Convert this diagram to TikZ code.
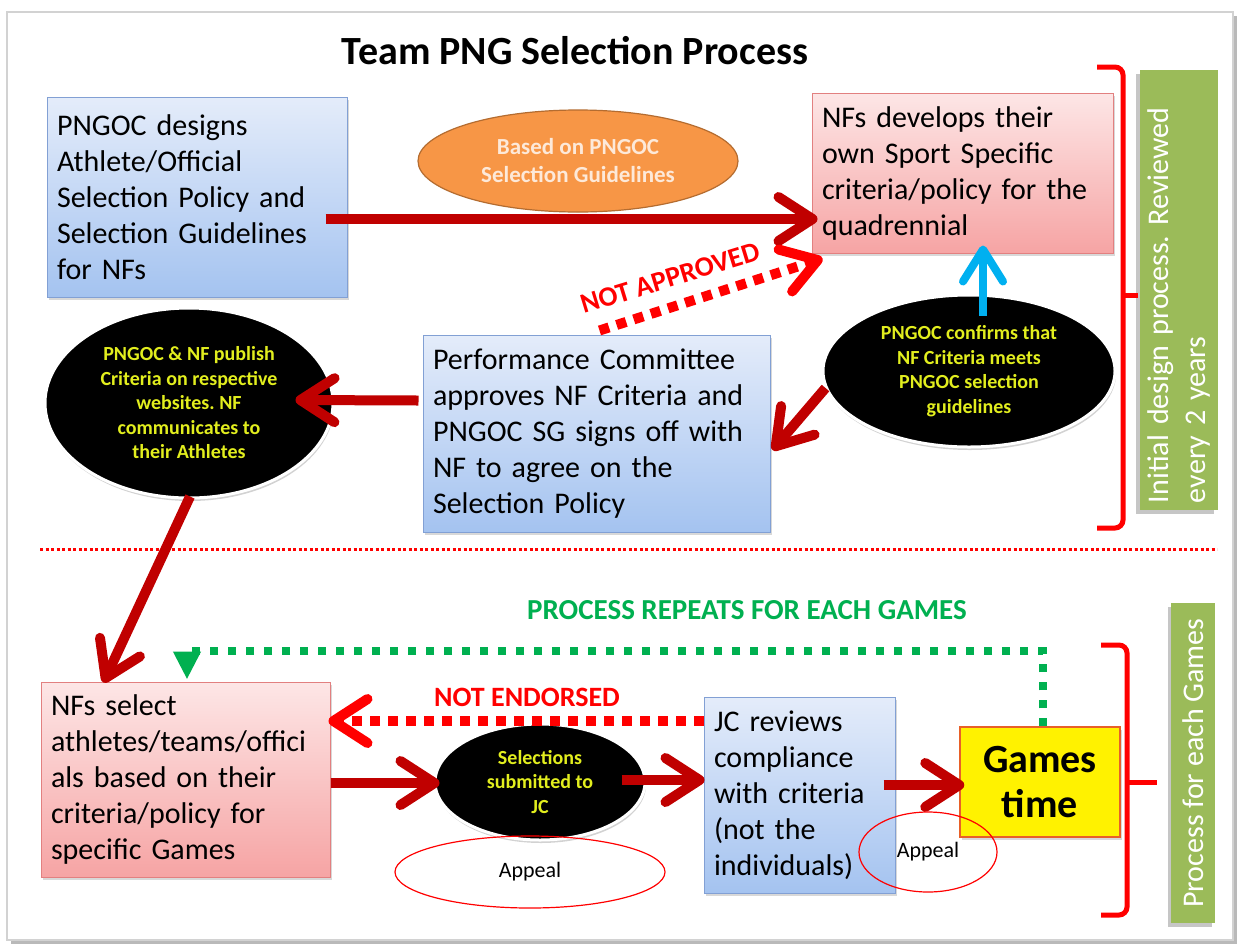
\documentclass[tikz,border=0pt]{standalone}
\usepackage{fontspec}
\setmainfont{Carlito}
\frenchspacing
\usetikzlibrary{arrows.meta,shapes.geometric,shadows,calc}
\definecolor{darkred}{RGB}{192,0,0}
\definecolor{brightred}{RGB}{255,0,0}
\definecolor{pgreen}{RGB}{0,176,80}
\definecolor{barg}{RGB}{155,187,89}
\definecolor{ytext}{RGB}{226,238,30}
\definecolor{bluetop}{RGB}{228,236,250}
\definecolor{bluebot}{RGB}{164,195,240}
\definecolor{blueborder}{RGB}{130,160,212}
\definecolor{pinktop}{RGB}{253,230,230}
\definecolor{pinkbot}{RGB}{246,164,164}
\definecolor{pinkborder}{RGB}{226,128,128}
\definecolor{orangefill}{RGB}{247,150,70}
\definecolor{orangeborder}{RGB}{180,108,48}
\definecolor{orangetext}{RGB}{253,233,217}
\definecolor{skyblue}{RGB}{0,176,240}
\definecolor{gamesborder}{RGB}{232,96,40}
\begin{document}
\begin{tikzpicture}[x=1pt,y=-1pt,
  bodytext/.style={font=\fontsize{30}{36}\selectfont, align=left, inner sep=10pt},
  boxshadow/.style={drop shadow={opacity=0.3,shadow xshift=2pt,shadow yshift=-3pt}},
  bluebox/.style={bodytext, draw=blueborder, line width=1pt, top color=bluetop, bottom color=bluebot, boxshadow},
  pinkbox/.style={bodytext, draw=pinkborder, line width=1pt, top color=pinktop, bottom color=pinkbot, boxshadow},
  blackell/.style={ellipse, fill=black, draw=white, line width=3pt, text=ytext, font=\bfseries\fontsize{20}{24.5}\selectfont, align=center, inner sep=0pt, drop shadow={opacity=0.35,shadow xshift=1pt,shadow yshift=-3pt}},
  appeal/.style={ellipse, draw=brightred, line width=1.2pt, font=\fontsize{22}{26}\selectfont, inner sep=0pt},
  bigarrow/.style={draw=darkred, line width=10pt, -{Straight Barb[length=34pt,width=44pt,round]}},
  dasharrow/.style={draw=brightred, line width=10pt, dash pattern=on 10pt off 8pt, -{Straight Barb[length=34pt,width=44pt,round]}},
  greendash/.style={draw=pgreen, line width=8pt, dash pattern=on 8pt off 10pt, -{Triangle[length=28pt,width=26pt]}},
  bar/.style={fill=barg, text=white, rotate=90, font=\fontsize{30}{37}\selectfont},
  bracket/.style={draw=brightred, line width=5pt, rounded corners=8pt}
]
\useasboundingbox (0,0) rectangle (1241,951);
% frame
\fill[gray!55] (11,16) rectangle (1237,944);
\draw[gray!35, fill=white, line width=1.5pt] (7,12) rectangle (1233,940);

% title
\node[font=\bfseries\fontsize{40}{48}\selectfont] (title) at (575,51) {Team PNG Selection Process};

% boxes
\node[bluebox, minimum width=300pt, minimum height=200pt, text width=280pt] (A) at (197,197)
  {PNGOC designs\\Athlete/Official\\Selection Policy and\\Selection Guidelines\\for NFs};
\node[pinkbox, minimum width=301pt, minimum height=160pt, text width=281pt] (B) at (962.5,173)
  {NFs develops their\\own Sport Specific\\criteria/policy for the\\quadrennial};
\node[bluebox, minimum width=347pt, minimum height=197pt, text width=327pt] (D) at (596.5,433.5)
  {Performance Committee\\approves NF Criteria and\\PNGOC SG signs off with\\NF to agree on the\\Selection Policy};
\node[pinkbox, minimum width=289pt, minimum height=195pt, text width=269pt] (F) at (185.5,779.5)
  {NFs select\\athletes/teams/offici\\als based on their\\criteria/policy for\\specific Games};
\node[bluebox, minimum width=191pt, minimum height=196pt, text width=171pt] (H) at (799.5,795)
  {JC reviews\\compliance\\with criteria\\(not the\\individuals)};
\node[draw=gamesborder, line width=1.5pt, fill=yellow, minimum width=160pt, minimum height=110pt, align=center, inner sep=0pt, font=\bfseries\fontsize{40}{45}\selectfont, boxshadow] (I) at (1040,782) {Games\\time};

% ellipses
\node[ellipse, draw=orangeborder, line width=1.2pt, fill=orangefill, minimum width=320pt, minimum height=102pt, inner sep=0pt, text=orangetext, align=center, font=\bfseries\fontsize{23}{28}\selectfont] (O) at (578,161)
  {Based on PNGOC\\Selection Guidelines};
\node[blackell, minimum width=292pt, minimum height=152pt] (C) at (969,371)
  {PNGOC confirms that\\NF Criteria meets\\PNGOC selection\\guidelines};
\node[blackell, minimum width=288pt, minimum height=190pt] (E) at (189,403)
  {PNGOC \& NF publish\\Criteria on respective\\websites. NF\\communicates to\\their Athletes};
\node[blackell, minimum width=210pt, minimum height=116pt] (G) at (540,782)
  {Selections\\submitted to\\JC};

% side bars
\fill[gray!45] (1136,74) rectangle (1214,514);
\node[bar, minimum width=440pt, minimum height=78pt, text width=426pt, align=left, inner xsep=7pt, inner ysep=0pt] (bar1) at (1179,290)
  {Initial design process. Reviewed\\every 2 years};
\fill[gray!45] (1168,607) rectangle (1212,927);
\node[bar, minimum width=320pt, minimum height=44pt, inner xsep=0pt, inner ysep=0pt] (bar2) at (1193,763)
  {Process for each Games};

% brackets
\draw[bracket] (1097,67) -- (1123,67) -- (1123,528) -- (1097,528);
\draw[brightred, line width=5pt] (1123,295) -- (1138,295);
\draw[bracket] (1101,645) -- (1127,645) -- (1127,915) -- (1101,915);
\draw[brightred, line width=5pt] (1127,782) -- (1157,782);

% divider
\draw[brightred, line width=3pt, dash pattern=on 3pt off 2.5pt] (40,549) -- (1217,549);

% connectors
\draw[bigarrow] ($(A.east)+(-22,22)$) -- ($(B.west)+(6,46)$);
\draw[dasharrow] ($(D.north)+(3,-4)$) -- ($(B.south west)+(11,5)$);
\node[text=brightred, font=\bfseries\fontsize{28}{34}\selectfont, rotate=17] (na) at (670,278) {NOT APPROVED};
\draw[draw=skyblue, line width=8pt, -{Straight Barb[length=32pt,width=40pt,round]}] ($(C.north)+(14,22)$) -- ($(B.south)+(20.5,-8)$);
\draw[bigarrow] ($(C.west)+(4,17)$) -- ($(D.east)+(2,16.5)$);
\draw[bigarrow] ($(D.west)+(-4,-33)$) -- ($(E.east)+(-39,-3)$);
\draw[bigarrow] ($(E.south)+(1,-3)$) -- ($(F.north)+(-82,1)$);
\draw[bigarrow] ($(F.east)+(0,3.5)$) -- ($(G.west)+(6,1)$);
\draw[bigarrow] ($(G.east)+(-25,-2)$) -- ($(H.west)+(1,-15)$);
\draw[bigarrow] ($(H.east)+(-12,-10)$) -- ($(I.west)+(5,3)$);
\draw[dasharrow] ($(H.west)+(0,-74)$) -- ($(F.east)+(-2,-58.5)$);
\node[text=brightred, font=\bfseries\fontsize{28}{34}\selectfont] (ne) at (527,697) {NOT ENDORSED};
\draw[greendash] ($(I.north)+(3,0)$) -- ++(0,-75) -| ($(F.north)+(1.5,-2)$);
\node[text=pgreen, font=\bfseries\fontsize{29}{34}\selectfont] (rep) at (747,610) {PROCESS REPEATS FOR EACH GAMES};

% appeals
\node[appeal, minimum width=270pt, minimum height=72pt] (ap1) at (530,872) {Appeal};
\node[appeal, minimum width=138pt, minimum height=80pt] (ap2) at (928,852) {Appeal};
\end{tikzpicture}
\end{document}
